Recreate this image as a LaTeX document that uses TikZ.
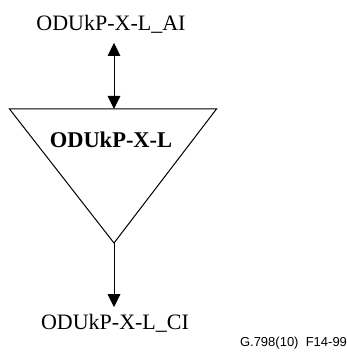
\documentclass[tikz,border=0pt]{standalone}
\usepackage{fontspec}
\setmainfont{Liberation Serif}
\newfontfamily\figsans{Liberation Sans}
\usetikzlibrary{arrows.meta}

\begin{document}
\begin{tikzpicture}[x=1pt,y=-1pt,line width=1pt,
  tip/.style={-{Triangle[length=13pt,width=12.5pt]}},
  biTip/.style={{Triangle[length=13pt,width=12.5pt]}-{Triangle[length=13pt,width=12.5pt]}}]
\useasboundingbox (0,0) rectangle (346,352);
% 适配功能（倒三角）
\coordinate (triL) at (9.5,109);
\coordinate (triR) at (216.5,109);
\coordinate (triTop) at (114,109);
\coordinate (apex) at (114,243);
\draw[line join=miter] (triL) -- (triR) -- (apex) -- cycle;
\node[font=\fontsize{22.5}{26}\selectfont\bfseries,anchor=base,inner sep=0] (lbl) at (111,148) {ODUkP-X-L};
% 接入点
\node[font=\fontsize{22}{26}\selectfont,anchor=base,inner sep=0,inner ysep=8.5pt] (ai) at (111,31) {ODUkP-X-L\_AI};
\draw[biTip] (ai.south -| triTop) -- (triTop);
% 连接点
\node[font=\fontsize{22}{26}\selectfont,anchor=base,inner sep=0,inner ysep=6pt] (ci) at (115,329) {ODUkP-X-L\_CI};
\draw[tip] (apex) -- (ci.north -| apex);
% 图号
\node[font=\figsans\fontsize{13}{15}\selectfont,anchor=base,inner sep=0] (fig) at (293.5,346) {G.798(10)\ \ F14-99};
\end{tikzpicture}
\end{document}
